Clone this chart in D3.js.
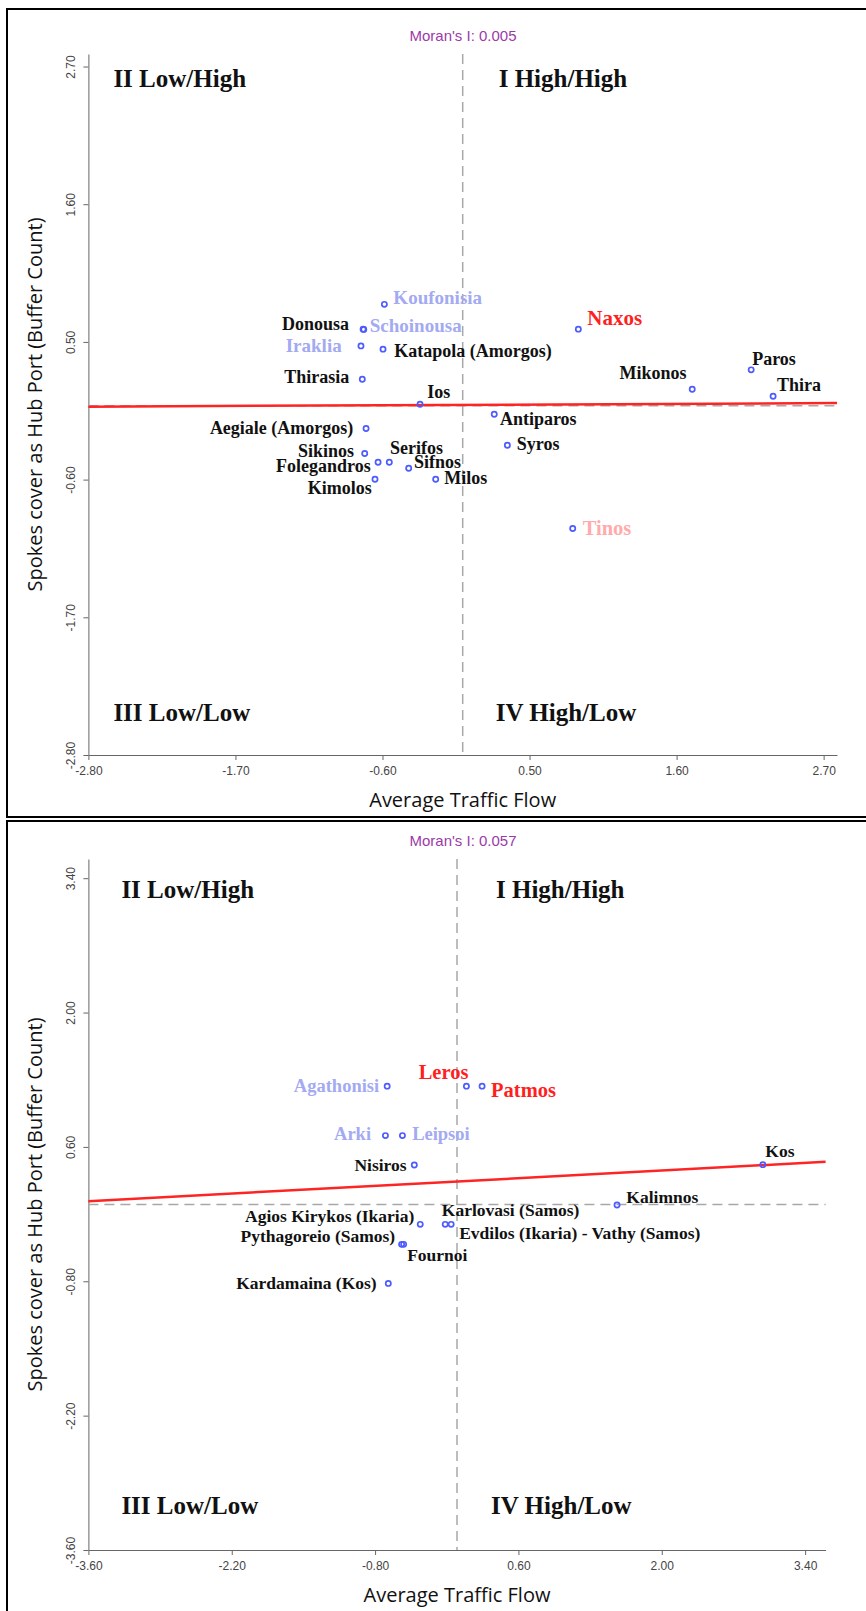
<!DOCTYPE html>
<html>
<head>
<meta charset="utf-8">
<script src="https://cdn.jsdelivr.net/npm/d3@7/dist/d3.min.js"></script>
<style>
  body { margin: 0; background: #fff; }
  .lbl { font-family: "Liberation Serif", "Times New Roman", serif; font-weight: bold; }
  .quad { font-family: "Liberation Serif", "Times New Roman", serif; font-weight: bold; font-size: 25px; fill: #111; }
  .axis-title { font-family: "Open Sans", Lato, sans-serif; font-size: 20px; fill: #111; }
  .moran { font-family: "Liberation Sans", Arial, sans-serif; font-size: 15px; fill: #9b3aa8; }
  .tick text { font-family: "Liberation Sans", Arial, sans-serif; font-size: 12px; fill: #444; }
  .tick line, .domain { stroke: #666; }
</style>
</head>
<body>
<div id="chart"></div>
<script>
// Cyclades (top plot)
var cycNames = ["Koufonisia", "Donousa", "Schoinousa", "Naxos", "Iraklia", "Katapola (Amorgos)",
  "Thirasia", "Ios", "Antiparos", "Aegiale (Amorgos)", "Syros", "Sikinos", "Folegandros",
  "Serifos", "Sifnos", "Kimolos", "Milos", "Tinos", "Mikonos", "Paros", "Thira"];
var cycTraffic = [-0.586, -0.745, -0.74, 0.865, -0.761, -0.596, -0.751, -0.319, 0.236, -0.723,
  0.334, -0.733, -0.633, -0.549, -0.404, -0.656, -0.202, 0.823, 1.717, 2.158, 2.322];
var cycSpokes = [0.80, 0.602, 0.60, 0.602, 0.468, 0.442, 0.202, 0.002, -0.078, -0.192,
  -0.325, -0.392, -0.461, -0.461, -0.509, -0.597, -0.597, -0.991, 0.122, 0.277, 0.066];
var cycGroup = ["cold", "plain", "cold", "hot", "cold", "plain", "plain", "plain", "plain", "plain",
  "plain", "plain", "plain", "plain", "plain", "plain", "plain", "warm", "plain", "plain", "plain"];
var cycTicks = [-2.8, -1.7, -0.6, 0.5, 1.6, 2.7];
var cycMoran = 0.005;
var cycIntercept = -0.003;

// Dodecanese / North Aegean (bottom plot)
var dodNames = ["Agathonisi", "Leros", "Patmos", "Arki", "Leipsoi", "Nisiros", "Kos", "Kalimnos",
  "Agios Kirykos (Ikaria)", "Karlovasi (Samos)", "Evdilos (Ikaria) - Vathy (Samos)",
  "Pythagoreio (Samos)", "Fournoi", "Kardamaina (Kos)"];
var dodTraffic = [-0.682, 0.092, 0.245, -0.699, -0.533, -0.417, 2.987, 1.563, -0.359, -0.115,
  -0.057, -0.541, -0.521, -0.671];
var dodSpokes = [1.233, 1.233, 1.233, 0.718, 0.718, 0.412, 0.415, -0.005, -0.207, -0.207,
  -0.207, -0.415, -0.415, -0.822];
var dodGroup = ["cold", "hot", "hot", "cold", "cold", "plain", "plain", "plain", "plain", "plain",
  "plain", "plain", "plain", "plain"];
var dodTicks = [-3.6, -2.2, -0.8, 0.6, 2.0, 3.4];
var dodMoran = 0.057;
var dodIntercept = 0.24;

var quadrantNames = ["I High/High", "II Low/High", "III Low/Low", "IV High/Low"];

// label placement next to each point: [anchor, dx, dy]
var cycPlace = [["start", 9, -6.6], ["end", -14, -4.7], ["start", 6, -3.3], ["start", 9, -10.7],
  ["end", -19.3, 0], ["start", 11.3, 1.7], ["end", -13, -2.3], ["start", 7.3, -11.7],
  ["start", 5.7, 4.3], ["end", -12.7, 0], ["start", 9.4, -1], ["end", -10.7, -2.6],
  ["end", -7.3, 3.7], ["start", 0.7, -14.3], ["start", 5.3, -5.7], ["end", -3.3, 8.7],
  ["start", 8.6, -0.7], ["start", 10, 0], ["end", -5.6, -16.3], ["start", 1, -10.4],
  ["start", 4, -10.7]];
var dodPlace = [["end", -8, 0], ["end", 2, -13.6], ["start", 9, 4.4], ["end", -14.4, -1.7],
  ["start", 9.7, -1.7], ["end", -7.7, 0], ["start", 2.5, -13], ["start", 9.3, -7.3],
  ["end", -6, -8.3], ["start", -3.4, -14.3], ["start", 8, 9], ["end", -6.4, -8.3],
  ["start", 3.5, 10.7], ["end", -11.6, 0]];

var groupColor = { plain: "#111", cold: "#a3aaf2", hot: "#ff1f1f", warm: "#ffabab" };

var svg = d3.select("#chart").append("svg")
  .attr("width", 866)
  .attr("height", 1611);

draw_panel({
  names: cycNames, xs: cycTraffic, ys: cycSpokes, groups: cycGroup, place: cycPlace,
  ticks: cycTicks, domain: [-2.8, 2.8], moran: cycMoran, intercept: cycIntercept,
  meanX: 0, meanY: -0.01,
  box: { left: 88.4, right: 837, top: 54, bottom: 755 },
  frame: [9, 817], moranY: 41,
  quad: { left: 25, midTop: 36, midBottom: 33, top: 33, bottom: 34 },
  fs: { plain: 18, cold: 19, hot: 21, warm: 20.5 }
});

draw_panel({
  names: dodNames, xs: dodTraffic, ys: dodSpokes, groups: dodGroup, place: dodPlace,
  ticks: dodTicks, domain: [-3.6, 3.6], moran: dodMoran, intercept: dodIntercept,
  meanX: 0, meanY: 0,
  box: { left: 88.4, right: 825.6, top: 859, bottom: 1550 },
  frame: [821, 1700], moranY: 846,
  quad: { left: 33, midTop: 39, midBottom: 34, top: 39, bottom: 36 },
  fs: { plain: 17.5, cold: 18.5, hot: 20.5, warm: 20.5 }
});

function draw_panel(p) {
  var x = d3.scaleLinear().domain(p.domain).range([p.box.left, p.box.right]);
  var y = d3.scaleLinear().domain(p.domain).range([p.box.bottom, p.box.top]);
  var g = svg.append("g");
  var fmt = function(d) { return d.toFixed(2); };

  g.append("rect")
    .attr("x", 7)
    .attr("y", p.frame[0])
    .attr("width", 900)
    .attr("height", p.frame[1] - p.frame[0])
    .attr("fill", "none")
    .attr("stroke", "#000")
    .attr("stroke-width", 2);

  g.append("text")
    .attr("class", "moran")
    .attr("x", 463)
    .attr("y", p.moranY)
    .attr("text-anchor", "middle")
    .text("Moran's I: " + p.moran.toFixed(3));

  var xAxis = g.append("g")
    .attr("transform", "translate(0," + p.box.bottom + ")")
    .call(d3.axisBottom(x).tickValues(p.ticks).tickFormat(fmt).tickSize(5).tickSizeOuter(0));
  xAxis.selectAll(".tick text").attr("y", 11);

  var yAxis = g.append("g")
    .attr("transform", "translate(" + p.box.left + ",0)")
    .call(d3.axisLeft(y).tickValues(p.ticks).tickFormat(fmt).tickSize(5).tickSizeOuter(0));
  yAxis.selectAll(".tick text")
    .attr("transform", "rotate(-90)")
    .attr("x", 0)
    .attr("y", -13.5)
    .attr("dy", 0)
    .attr("text-anchor", "middle");

  // mean lines
  g.append("line")
    .attr("x1", x(p.meanX)).attr("x2", x(p.meanX))
    .attr("y1", p.box.top).attr("y2", p.box.bottom)
    .style("stroke", "#a8a8a8").style("stroke-width", 1.5).style("stroke-dasharray", "10,6");
  g.append("line")
    .attr("x1", p.box.left).attr("x2", p.box.right)
    .attr("y1", y(p.meanY)).attr("y2", y(p.meanY))
    .style("stroke", "#a8a8a8").style("stroke-width", 1.5).style("stroke-dasharray", "10,6");

  // regression line, slope = Moran's I
  g.append("line")
    .attr("x1", x(p.domain[0])).attr("y1", y(p.moran * p.domain[0] + p.intercept))
    .attr("x2", x(p.domain[1])).attr("y2", y(p.moran * p.domain[1] + p.intercept))
    .style("stroke", "#ff2424").style("stroke-width", 2.5);

  // quadrant names
  var qx = [x(p.meanX) + p.quad.midTop, p.box.left + p.quad.left, p.box.left + p.quad.left, x(p.meanX) + p.quad.midBottom];
  var qy = [p.box.top + p.quad.top, p.box.top + p.quad.top, p.box.bottom - p.quad.bottom, p.box.bottom - p.quad.bottom];
  g.selectAll(".quad")
    .data(quadrantNames)
    .enter()
    .append("text")
    .attr("class", "quad")
    .attr("x", function(d, i) { return qx[i]; })
    .attr("y", function(d, i) { return qy[i]; })
    .text(function(d) { return d; });

  // axis titles
  g.append("text")
    .attr("class", "axis-title")
    .attr("x", (p.box.left + p.box.right) / 2)
    .attr("y", p.box.bottom + 52)
    .attr("text-anchor", "middle")
    .text("Average Traffic Flow");
  g.append("text")
    .attr("class", "axis-title")
    .attr("transform", "translate(42," + (p.box.top + p.box.bottom) / 2 + ") rotate(-90)")
    .attr("text-anchor", "middle")
    .text("Spokes cover as Hub Port (Buffer Count)");

  var idx = d3.range(p.names.length);

  g.selectAll(".pt")
    .data(idx)
    .enter()
    .append("circle")
    .attr("class", "pt")
    .attr("cx", function(i) { return x(p.xs[i]); })
    .attr("cy", function(i) { return y(p.ys[i]); })
    .attr("r", 2.6)
    .style("fill", "none")
    .style("stroke", "#4d5bff")
    .style("stroke-width", 1.7);

  g.selectAll(".lbl")
    .data(idx)
    .enter()
    .append("text")
    .attr("class", "lbl")
    .attr("x", function(i) { return x(p.xs[i]) + p.place[i][1]; })
    .attr("y", function(i) {
      return y(p.ys[i]) + p.place[i][2] + 0.33 * p.fs[p.groups[i]];
    })
    .attr("text-anchor", function(i) { return p.place[i][0]; })
    .attr("font-size", function(i) { return p.fs[p.groups[i]]; })
    .attr("fill", function(i) { return groupColor[p.groups[i]]; })
    .text(function(i) { return p.names[i]; });
}
</script>
</body>
</html>
